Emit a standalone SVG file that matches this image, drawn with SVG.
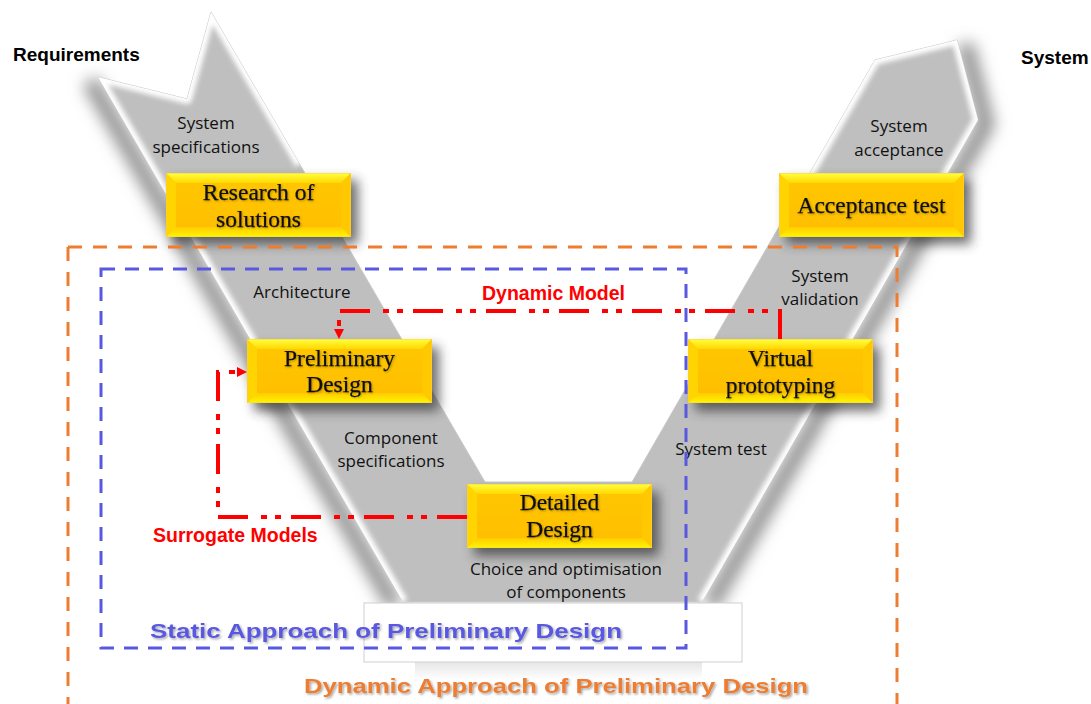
<svg xmlns="http://www.w3.org/2000/svg" width="1091" height="704" viewBox="0 0 1091 704">
<defs>
<style>
.lbl{font-family:"Open Sans","Liberation Sans",sans-serif;font-size:17px;fill:#111;text-anchor:middle}
.hd{font-family:"Liberation Sans",Arial,sans-serif;font-size:19px;font-weight:bold;fill:#000}
.red{font-family:"Liberation Sans",Arial,sans-serif;font-size:19.5px;font-weight:bold;fill:#f00}
.bt{font-family:"Liberation Serif","Times New Roman",serif;font-size:23.5px;fill:#111;stroke:#111;stroke-width:0.25;text-anchor:middle;filter:url(#ts)}
.big{font-family:"Liberation Sans",Arial,sans-serif;font-size:21px;font-weight:bold;filter:url(#ts2)}
.rl{fill:none;stroke:#f00;stroke-width:4;stroke-dasharray:30 10 6 8 6 13}
.bsh{fill:#333;opacity:.7;filter:url(#bs)}
.vsh{fill:none;stroke:#8a8a8a;stroke-width:16;filter:url(#blur8)}
.bev{fill:none;stroke:#fff;stroke-width:10;stroke-linejoin:round}
</style>
<filter id="blur8" x="-50%" y="-50%" width="200%" height="200%"><feGaussianBlur stdDeviation="8"/></filter>
<filter id="blur3" x="-10%" y="-10%" width="120%" height="120%"><feGaussianBlur stdDeviation="2.5"/></filter>
<filter id="bs" x="-30%" y="-50%" width="160%" height="200%"><feGaussianBlur stdDeviation="6"/></filter>
<filter id="ts" x="-10%" y="-30%" width="120%" height="160%"><feDropShadow dx="1" dy="1" stdDeviation="0.8" flood-color="#000" flood-opacity="0.3"/></filter>
<filter id="ts2" x="-10%" y="-30%" width="120%" height="160%"><feDropShadow dx="1.5" dy="1.5" stdDeviation="1" flood-color="#000" flood-opacity="0.35"/></filter>
<clipPath id="vclip"><polygon points="98,77 187,99 211,12 485,482 632,482 875,60 957,40 978,120 702,602 403,602"/></clipPath>
<linearGradient id="gtop" x1="0" y1="0" x2="0" y2="1"><stop offset="0" stop-color="#FFFF40"/><stop offset="1" stop-color="#FFD800"/></linearGradient>
<linearGradient id="gbot" x1="0" y1="1" x2="0" y2="0"><stop offset="0" stop-color="#FFF500"/><stop offset="1" stop-color="#FFCC00"/></linearGradient>
<linearGradient id="gface" x1="0" y1="0" x2="0" y2="1"><stop offset="0" stop-color="#FFC600"/><stop offset="1" stop-color="#FFBF00"/></linearGradient>
<linearGradient id="gfade" x1="0" y1="0" x2="0" y2="1"><stop offset="0" stop-color="#e6e6e6"/><stop offset="1" stop-color="#fff"/></linearGradient>
<g id="ybox">
<rect width="185" height="64" fill="#FFD200"/>
<polygon points="0,0 185,0 175,10 10,10" fill="url(#gtop)"/>
<polygon points="0,64 185,64 175,54 10,54" fill="url(#gbot)"/>
<polygon points="0,0 10,10 10,54 0,64" fill="#FFD400"/>
<polygon points="185,0 175,10 175,54 185,64" fill="#FFC800"/>
<rect x="10" y="10" width="165" height="44" fill="url(#gface)"/>
<rect x="0.25" y="0.25" width="184.5" height="63.5" fill="none" stroke="#F2D24A" stroke-width="0.5"/>
</g>
<marker id="ah" markerUnits="userSpaceOnUse" markerWidth="11" markerHeight="10" refX="0" refY="5" orient="auto"><path d="M0,0 L10,5 L0,10 z" fill="#f00"/></marker>
</defs>
<rect width="1091" height="704" fill="#fff"/>

<g id="vshape">
<polyline class="vsh" points="98,77 403,602" transform="translate(-8,4)"/>
<polyline class="vsh" points="957,40 978,120 702,602" transform="translate(8,4)"/>
<polygon points="98,77 187,99 211,12 485,482 632,482 875,60 957,40 978,120 702,602 403,602" fill="#bfbfbf" stroke="#c9c9c9" stroke-width="1"/>
<g clip-path="url(#vclip)"><g filter="url(#blur3)">
<polyline class="bev" points="403,602 98,77 187,99 211,12 300,164"/>
<polyline class="bev" points="790,207 875,60 957,40 978,120 702,602"/>
</g></g>
<rect x="415" y="662" width="287" height="18" fill="url(#gfade)"/>
<rect x="364" y="603" width="378" height="59" fill="#fff" stroke="#cfcfcf" stroke-width="1"/>
</g>

<g id="labels">
<text class="hd" x="13" y="61">Requirements</text>
<text class="hd" x="1021" y="64">System</text>
<text class="lbl" x="206" y="129">System</text>
<text class="lbl" x="206" y="153">specifications</text>
<text class="lbl" x="899" y="132">System</text>
<text class="lbl" x="899" y="156">acceptance</text>
<text class="lbl" x="302" y="298">Architecture</text>
<text class="lbl" x="391" y="444">Component</text>
<text class="lbl" x="391" y="467">specifications</text>
<text class="lbl" x="820" y="282">System</text>
<text class="lbl" x="820" y="305">validation</text>
<text class="lbl" x="721" y="455">System test</text>
<text class="lbl" x="566" y="575">Choice and optimisation</text>
<text class="lbl" x="566" y="598">of components</text>
</g>

<g id="research">
<rect class="bsh" x="173" y="180" width="185" height="64"/>
<use href="#ybox" x="166" y="173"/>
<text class="bt" x="258.5" y="200">Research of</text>
<text class="bt" x="258.5" y="227">solutions</text>
</g>
<g id="acceptance">
<rect class="bsh" x="786" y="180" width="185" height="64"/>
<use href="#ybox" x="779" y="173"/>
<text class="bt" x="871.5" y="213">Acceptance test</text>
</g>
<g id="preliminary">
<rect class="bsh" x="254" y="347" width="185" height="64"/>
<use href="#ybox" x="247" y="339"/>
<text class="bt" x="339.5" y="366">Preliminary</text>
<text class="bt" x="339.5" y="392">Design</text>
</g>
<g id="virtual">
<rect class="bsh" x="695" y="347" width="185" height="64"/>
<use href="#ybox" x="688" y="339"/>
<text class="bt" x="780.5" y="366">Virtual</text>
<text class="bt" x="780.5" y="393">prototyping</text>
</g>
<g id="detailed">
<rect class="bsh" x="474" y="492" width="185" height="64"/>
<use href="#ybox" x="467" y="484"/>
<text class="bt" x="559.5" y="510">Detailed</text>
<text class="bt" x="559.5" y="537">Design</text>
</g>

<g id="connectors">
<path class="rl" d="M780,339 V311 H339 V329"/>
<path d="M339,311 V329" fill="none" stroke="none" marker-end="url(#ah)"/>
<path class="rl" d="M467,517 H218 V372 H237"/>
<path d="M218,372 H237" fill="none" stroke="none" marker-end="url(#ah)"/>
</g>
<g id="connector-labels">
<text class="red" x="482" y="300">Dynamic Model</text>
<text class="red" x="153" y="542">Surrogate Models</text>
</g>

<g id="dynamic-approach">
<path d="M68,247 H897 V720 M68,247 V720" fill="none" stroke="#ED7D31" stroke-width="3" stroke-dasharray="14 11"/>
<text class="big" x="304" y="693" fill="#ED7D31" textLength="504" lengthAdjust="spacingAndGlyphs">Dynamic Approach of Preliminary Design</text>
</g>
<g id="static-approach">
<rect x="101" y="269" width="585" height="379" fill="none" stroke="#5858E0" stroke-width="3" stroke-dasharray="14 10"/>
<text class="big" x="150" y="638" fill="#5858E0" textLength="472" lengthAdjust="spacingAndGlyphs">Static Approach of Preliminary Design</text>
</g>
</svg>
